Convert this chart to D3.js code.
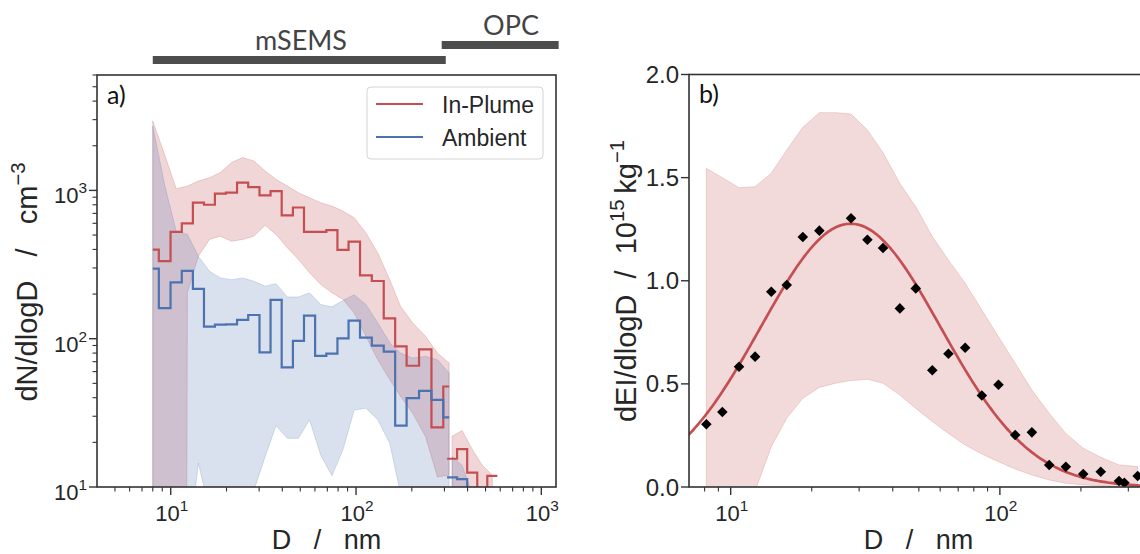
<!DOCTYPE html>
<html>
<head>
<meta charset="utf-8">
<script src="https://cdn.jsdelivr.net/npm/d3@7"></script>
<style>
  body { margin: 0; background: #fff; }
  svg text { font-family: 'Liberation Sans', Arial, sans-serif; fill: #262626; }
</style>
</head>
<body>
<svg id="fig" width="1140" height="554"></svg>
<script>
// ---------- Panel a: number size distributions (mSEMS + OPC) ----------
// mSEMS bin mid-point diameters (nm)
const semsD = [8.0, 9.3, 10.7, 12.3, 14.1, 16.2, 18.5, 21.3, 24.4, 28.1, 32.3, 37.0, 42.6, 48.9,
               56.1, 64.5, 74.1, 85.0, 97.7, 113, 131, 152, 174, 202, 237, 275, 318];
// In-Plume mean dN/dlogD (cm^-3) with the spread band
const plumeN = [399, 333, 526, 599, 826, 800, 950, 965, 1127, 1052, 925, 988, 678, 767,
                526, 526, 539, 397, 452, 267, 245, 137, 88.7, 65.7, 84.7, 25.2, 47.6];
const plumeHi = [2938, 1722, 1026, 1069, 1155, 1218, 1318, 1540, 1665, 1579, 1352, 1187, 1069, 964,
                 893, 826, 784, 725, 654, 518, 379, 250, 165, 128, 104, 80, 68.5];
const plumeLo = [0, 0, 0, 204, 360, 467, 491, 454, 467, 491, 581, 505, 410, 342,
                 278, 232, 204, 184, 149, 104, 72, 53, 40.8, 31.5, 21.9, 11.7, 12];
// Ambient mean dN/dlogD (cm^-3) with the spread band
const ambN = [297, 161, 240, 287, 217, 120.5, 124.3, 124.8, 134, 144.5, 80.9, 182.5, 64, 96.8,
              143, 76.7, 79.2, 100.5, 132.5, 101.6, 89.8, 81.7, 25.9, 39.7, 44.5, 38.7, 29.5];
const ambHi = [2716, 1069, 532, 505, 360, 285, 257, 250, 257, 244, 226, 235, 191, 191,
               204, 170, 164, 181, 198, 170, 128, 94, 80, 74, 76, 72, 58.7];
const ambLo = [0, 0, 0, 3.4, 14.5, 6.9, 3, 3, 4, 9.5, 16, 25.9, 21.3, 21.3,
               28.4, 16.4, 11.9, 17.8, 33, 34, 28.4, 19.7, 9, 5, 3, 2, 2];

// OPC bin edges (nm) and values per bin
const opcEdges = [310, 351, 398, 451, 511, 579];
const opcPlumeN = [15.5, 18, 12.5, 6, 11.9];
const opcPlumeHi = [22, 24, 18, 14, 12];
const opcPlumeLo = [9, 10, 7, 5, 4];
const opcAmbN = [11.6, 11.3, 5, 3, 2];
const opcAmbHi = [16, 14, 9, 5, 3];
const opcAmbLo = [6, 5, 2, 1, 1];

// Instrument size ranges shown above panel a (nm)
const instruments = ["mSEMS", "OPC"];
const instrumentLo = [8, 290];
const instrumentHi = [305, 1240];

// ---------- Panel b: emission index size distribution ----------
const eiD = [8.12, 9.31, 10.74, 12.32, 14.15, 16.15, 18.53, 21.35, 27.99, 32.2, 36.8, 42.5, 48.7,
             56.1, 64.4, 74.3, 85.7, 98.8, 114, 131.5, 152.5, 175.8, 204, 237, 277, 290, 325];
const eiV = [0.304, 0.364, 0.583, 0.632, 0.947, 0.979, 1.212, 1.243, 1.303, 1.199, 1.159, 0.866, 0.963,
             0.566, 0.646, 0.675, 0.444, 0.496, 0.252, 0.265, 0.107, 0.098, 0.063, 0.074, 0.029, 0.02, 0.053];
const eiBandD = [8.12, 9.31, 10.74, 12.32, 14.15, 16.15, 18.53, 21.35, 24.5, 27.99, 32.2, 36.8, 42.5, 48.7,
                 56.1, 64.4, 74.3, 85.7, 98.8, 114, 131.5, 152.5, 175.8, 204, 237, 277, 325];
const eiHi = [1.545, 1.50, 1.451, 1.456, 1.521, 1.634, 1.744, 1.815, 1.815, 1.808, 1.731, 1.621, 1.472, 1.359,
              1.214, 1.101, 0.988, 0.858, 0.729, 0.600, 0.470, 0.357, 0.260, 0.188, 0.144, 0.107, 0.099];
const eiLo = [-0.5, -0.4, -0.2, -0.02, 0.195, 0.333, 0.430, 0.483, 0.503, 0.516, 0.522, 0.503, 0.446, 0.381,
              0.317, 0.260, 0.204, 0.160, 0.123, 0.087, 0.058, 0.034, 0.018, 0.010, 0.006, 0.0, 0.0];
// Lognormal fit: total (1e15 kg^-1), geometric mean diameter (nm), geometric std
const fitN = 1.07, fitDg = 27.9, fitSigmaG = 2.16;

// ---------- styling ----------
const RED = "#C44E52", BLUE = "#4C72B0", AXIS = "#333333";
const TICK_FONT = 22, LABEL_FONT = 29;
const svg = d3.select("#fig");

// ---------- geometry ----------
const A = {x0: 97, x1: 556, y0: 75, y1: 487};
const B = {x0: 689, x1: 1148, y0: 74.5, y1: 487};

const xA = d3.scaleLog().domain([4, 1200]).range([A.x0, A.x1]);
const yA = d3.scaleLog().domain([10, 6000]).range([A.y1, A.y0]);
const xB = d3.scaleLog().domain([7, 355]).range([B.x0, B.x1]);
const yB = d3.scaleLinear().domain([0, 2]).range([B.y1, B.y0]);

const defs = svg.append("defs");
defs.append("clipPath").attr("id", "clipA").append("rect")
  .attr("x", A.x0).attr("y", A.y0).attr("width", A.x1 - A.x0).attr("height", A.y1 - A.y0);
defs.append("clipPath").attr("id", "clipB").append("rect")
  .attr("x", B.x0).attr("y", B.y0).attr("width", B.x1 - B.x0).attr("height", B.y1 - B.y0);

// non-positive lower bounds fall far below the log axis
const yLowA = v => v > 0 ? yA(v) : A.y1 + 4000;

// ---------- panel a ----------
const gA = svg.append("g").attr("clip-path", "url(#clipA)");

const semsRows = (lo, hi) => semsD.map((d, i) => ({d, lo: lo[i], hi: hi[i]}));
const opcCenters = opcEdges.slice(0, -1).map((e, i) => Math.sqrt(e * opcEdges[i + 1]));
const opcRows = (lo, hi) => opcCenters.map((d, i) => ({d, lo: lo[i], hi: hi[i]}));

const bandA = d3.area().x(r => xA(r.d)).y0(r => yLowA(r.lo)).y1(r => yA(r.hi));

function drawBand(rows, color, alpha) {
  gA.append("path").datum(rows).attr("d", bandA)
    .attr("fill", color).attr("fill-opacity", alpha)
    .attr("stroke", color).attr("stroke-opacity", alpha).attr("stroke-width", 1);
}
drawBand(semsRows(plumeLo, plumeHi), RED, 0.23);
drawBand(opcRows(opcPlumeLo, opcPlumeHi), RED, 0.23);
drawBand(semsRows(ambLo, ambHi), BLUE, 0.21);
drawBand(opcRows(opcAmbLo, opcAmbHi), BLUE, 0.21);

const stepMid = d3.line().x(r => xA(r[0])).y(r => yLowA(r[1])).curve(d3.curveStep);
const stepEdges = d3.line().x(r => xA(r[0])).y(r => yLowA(r[1])).curve(d3.curveStepAfter);

function drawSteps(vals, opcVals, color) {
  gA.append("path").datum(semsD.map((d, i) => [d, vals[i]])).attr("d", stepMid)
    .attr("fill", "none").attr("stroke", color).attr("stroke-width", 2.2);
  const pts = opcVals.map((v, i) => [opcEdges[i], v]);
  pts.push([opcEdges[opcEdges.length - 1], opcVals[opcVals.length - 1]]);
  gA.append("path").datum(pts).attr("d", stepEdges)
    .attr("fill", "none").attr("stroke", color).attr("stroke-width", 2.2);
}
drawSteps(plumeN, opcPlumeN, RED);
drawSteps(ambN, opcAmbN, BLUE);

// ---------- panel b ----------
const gB = svg.append("g").attr("clip-path", "url(#clipB)");
const bandB = d3.area().x(d => xB(d)).y0((d, i) => yB(eiLo[i])).y1((d, i) => yB(eiHi[i]));
gB.append("path").datum(eiBandD).attr("d", bandB)
  .attr("fill", RED).attr("fill-opacity", 0.21)
  .attr("stroke", RED).attr("stroke-opacity", 0.21).attr("stroke-width", 1);

const fitAmp = fitN / (Math.sqrt(2 * Math.PI) * Math.log10(fitSigmaG));
const fitCurve = d3.range(0, 301).map(k => {
  const d = Math.pow(10, Math.log10(5) + k * (Math.log10(500) - Math.log10(5)) / 300);
  const z = (Math.log10(d) - Math.log10(fitDg)) / Math.log10(fitSigmaG);
  return [d, fitAmp * Math.exp(-0.5 * z * z)];
});
gB.append("path").datum(fitCurve)
  .attr("d", d3.line().x(p => xB(p[0])).y(p => yB(p[1])))
  .attr("fill", "none").attr("stroke", RED).attr("stroke-width", 2.7);

gB.selectAll("path.pt").data(eiD).join("path").attr("class", "pt")
  .attr("d", d3.symbol(d3.symbolSquare, 56))
  .attr("transform", (d, i) => `translate(${xB(d)},${yB(eiV[i])}) rotate(45)`)
  .attr("fill", "#000");

// ---------- axes ----------
function superLabel(sel, base, exp, size) {
  sel.append("tspan").text(base);
  sel.append("tspan").text(exp).attr("font-size", size * 0.7).attr("dy", -size * 0.45);
}

function frame(P) {
  svg.append("rect").attr("x", P.x0).attr("y", P.y0)
    .attr("width", P.x1 - P.x0).attr("height", P.y1 - P.y0)
    .attr("fill", "none").attr("stroke", AXIS).attr("stroke-width", 1.6);
}

function logXAxis(x, P, majors, minors) {
  const g = svg.append("g");
  g.selectAll("line.mi").data(minors).join("line")
    .attr("x1", d => x(d)).attr("x2", d => x(d)).attr("y1", P.y1).attr("y2", P.y1 + 4.5)
    .attr("stroke", AXIS).attr("stroke-width", 1.1);
  g.selectAll("line.ma").data(majors).join("line")
    .attr("x1", d => x(d)).attr("x2", d => x(d)).attr("y1", P.y1).attr("y2", P.y1 + 8)
    .attr("stroke", AXIS).attr("stroke-width", 1.4);
  majors.forEach(d => {
    const t = g.append("text").attr("x", x(d) + 1).attr("y", P.y1 + 33.5)
      .attr("text-anchor", "middle").attr("font-size", TICK_FONT);
    superLabel(t, "10", String(Math.round(Math.log10(d))), TICK_FONT);
  });
}

frame(A);
frame(B);

logXAxis(xA, A, [10, 100, 1000],
  [5, 6, 7, 8, 9, 20, 30, 40, 50, 60, 70, 80, 90, 200, 300, 400, 500, 600, 700, 800, 900]);
logXAxis(xB, B, [10, 100], [8, 9, 20, 30, 40, 50, 60, 70, 80, 90, 200, 300]);

// panel a y axis (log)
{
  const g = svg.append("g");
  const minors = [20, 30, 40, 50, 60, 70, 80, 90, 200, 300, 400, 500, 600, 700, 800, 900,
                  2000, 3000, 4000, 5000, 6000];
  g.selectAll("line.mi").data(minors).join("line")
    .attr("x1", A.x0).attr("x2", A.x0 - 4.5).attr("y1", d => yA(d)).attr("y2", d => yA(d))
    .attr("stroke", AXIS).attr("stroke-width", 1.1);
  [10, 100, 1000].forEach(d => {
    g.append("line").attr("x1", A.x0).attr("x2", A.x0 - 8).attr("y1", yA(d)).attr("y2", yA(d))
      .attr("stroke", AXIS).attr("stroke-width", 1.4);
    const t = g.append("text").attr("x", A.x0 - 10).attr("y", yA(d) + 13)
      .attr("text-anchor", "end").attr("font-size", TICK_FONT);
    superLabel(t, "10", String(Math.round(Math.log10(d))), TICK_FONT);
  });
}
// panel b y axis (linear)
{
  const g = svg.append("g");
  [0, 0.5, 1.0, 1.5, 2.0].forEach(v => {
    g.append("line").attr("x1", B.x0).attr("x2", B.x0 - 8).attr("y1", yB(v)).attr("y2", yB(v))
      .attr("stroke", AXIS).attr("stroke-width", 1.4);
    g.append("text").attr("x", B.x0 - 10).attr("y", yB(v) + 8.5)
      .attr("text-anchor", "end").attr("font-size", TICK_FONT + 2).text(d3.format(".1f")(v));
  });
}

// axis titles
function xTitle(P) {
  svg.append("text").attr("x", (P.x0 + P.x1) / 2).attr("y", 548.5)
    .attr("text-anchor", "middle").attr("font-size", 27)
    .style("white-space", "pre").text("D   /   nm");
}
xTitle(A);
xTitle(B);

function yTitle(x, cy, parts) {
  const t = svg.append("text").attr("transform", `translate(${x},${cy}) rotate(-90)`)
    .attr("text-anchor", "middle").attr("font-size", LABEL_FONT).style("white-space", "pre");
  parts.forEach(p => {
    const s = t.append("tspan").text(p.t);
    if (p.sup) s.attr("font-size", LABEL_FONT * 0.7).attr("dy", p.dy);
    else if (p.dy) s.attr("dy", p.dy);
  });
}
yTitle(37, 282, [{t: "dN/dlogD   /   cm"}, {t: "\u22123", sup: true, dy: -12}]);
yTitle(636, 281, [{t: "dEI/dlogD  /  10"}, {t: "15", sup: true, dy: -12},
                  {t: "\u2009kg", dy: 12}, {t: "\u22121", sup: true, dy: -12}]);

// panel letters
svg.append("text").attr("x", 107).attr("y", 104).attr("font-size", 25)
  .style("font-family", "Lato, 'Open Sans', sans-serif").style("fill", "#111").text("a)");
svg.append("text").attr("x", 699).attr("y", 103).attr("font-size", 25)
  .style("font-family", "Lato, 'Open Sans', sans-serif").style("fill", "#111").text("b)");

// legend
{
  const g = svg.append("g");
  g.append("rect").attr("x", 367).attr("y", 87).attr("width", 176).attr("height", 72).attr("rx", 4)
    .attr("fill", "#fff").attr("fill-opacity", 0.8).attr("stroke", "#d4d4d4").attr("stroke-width", 1);
  [["In-Plume", RED], ["Ambient", BLUE]].forEach(([name, c], i) => {
    const y = 104 + i * 33;
    g.append("line").attr("x1", 376).attr("x2", 423).attr("y1", y).attr("y2", y)
      .attr("stroke", c).attr("stroke-width", 2.2);
    g.append("text").attr("x", 442).attr("y", y + 9).attr("font-size", 23).text(name);
  });
}

// instrument size-range bars
instruments.forEach((name, i) => {
  const yb = i === 0 ? 56 : 41;
  const x0 = xA(instrumentLo[i]), x1 = xA(instrumentHi[i]);
  svg.append("rect").attr("x", x0).attr("y", yb).attr("width", x1 - x0).attr("height", 8)
    .attr("fill", "#4d4d4d");
  svg.append("text").attr("x", i === 0 ? 301 : 511).attr("y", yb - 6)
    .attr("text-anchor", "middle").attr("font-size", 27)
    .style("font-family", "Lato, 'Open Sans', sans-serif").style("fill", "#444").text(name);
});
</script>
</body>
</html>
